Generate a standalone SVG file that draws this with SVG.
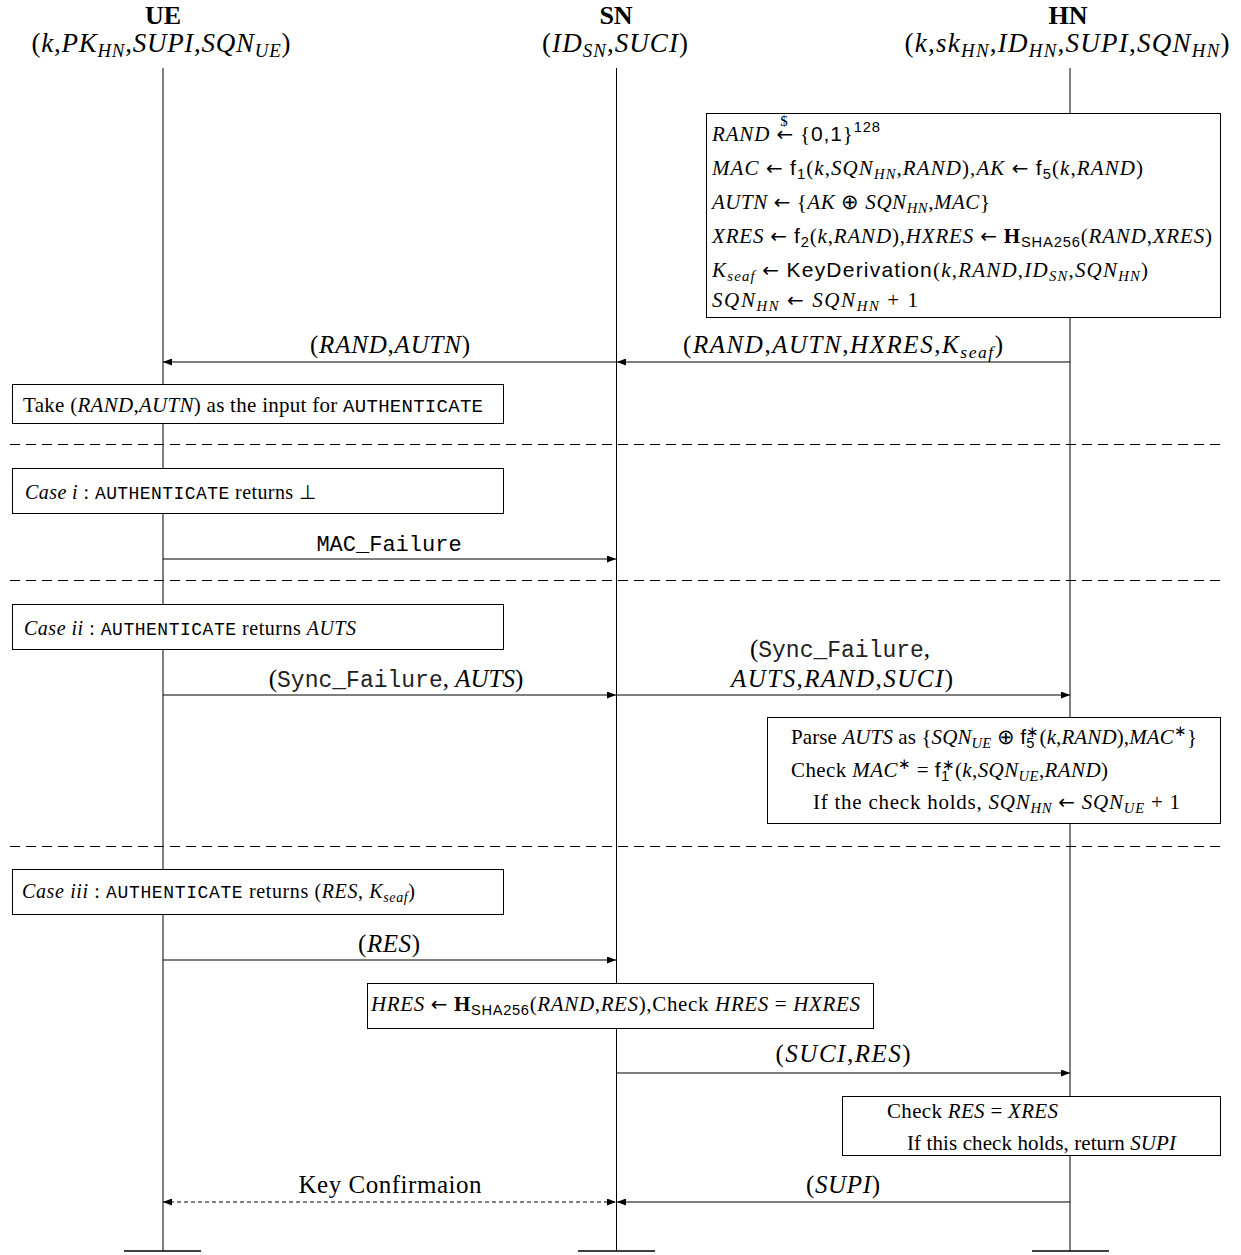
<svg xmlns="http://www.w3.org/2000/svg" width="1241" height="1255" viewBox="0 0 1241 1255">
  <style>
    text { font-family: "Liberation Serif", serif; fill: #000; }
    .i { font-style: italic; }
    .b { font-weight: bold; }
    .sf { font-family: "Liberation Sans", sans-serif; }
    .tt { font-family: "Liberation Mono", monospace; }
    .ar { font-family: "DejaVu Sans", sans-serif; font-size: 95%; }
    .s { font-size: 70%; }
    .hb { font-size: 26px; font-weight: bold; }
    .hd { font-size: 27px; }
    .lb { font-size: 25px; }
    .bx { font-size: 21px; }
    .cs { font-size: 20px; }
    .cs .tt { font-size: 18px; }
    .life { stroke: #000; stroke-width: 1; fill: none; }
    .box { fill: #fff; stroke: #000; stroke-width: 1; }
    .sep { stroke: #000; stroke-width: 1; stroke-dasharray: 10 6; }
    .msg { stroke: #000; stroke-width: 1.2; fill: none; marker-end: url(#ah); }
    .dmsg { stroke: #000; stroke-width: 1.2; fill: none; stroke-dasharray: 4 3; marker-end: url(#ah); marker-start: url(#ah); }
  </style>
  <defs>
    <marker id="ah" viewBox="0 0 9 7" refX="9" refY="3.5" markerWidth="9" markerHeight="7" markerUnits="userSpaceOnUse" orient="auto-start-reverse">
      <path d="M0,0 L9,3.5 L0,7 z" fill="#000"/>
    </marker>
  </defs>
  <rect width="1241" height="1255" fill="#fff"/>

  <!-- lifelines -->
  <g id="lifelines">
    <line class="life" x1="163" y1="68" x2="163" y2="1251"/>
    <line class="life" x1="616.5" y1="68" x2="616.5" y2="1251"/>
    <line class="life" x1="1070" y1="68" x2="1070" y2="1251"/>
    <line x1="124" y1="1251" x2="201" y2="1251" stroke="#000" stroke-width="1.5"/>
    <line x1="578" y1="1251" x2="655" y2="1251" stroke="#000" stroke-width="1.5"/>
    <line x1="1032" y1="1251" x2="1109" y2="1251" stroke="#000" stroke-width="1.5"/>
  </g>

  <!-- participants -->
  <g id="ue">
    <text class="hb" x="163" y="24" text-anchor="middle">UE</text>
    <text class="hd" x="161" y="52" text-anchor="middle" textLength="259">(<tspan class="i">k</tspan>,<tspan class="i">PK</tspan><tspan class="i s" dy="5">HN</tspan><tspan dy="-5">,</tspan><tspan class="i">SUPI</tspan>,<tspan class="i">SQN</tspan><tspan class="i s" dy="5">UE</tspan><tspan dy="-5">)</tspan></text>
  </g>
  <g id="sn">
    <text class="hb" x="616" y="24" text-anchor="middle">SN</text>
    <text class="hd" x="615" y="52" text-anchor="middle" textLength="146">(<tspan class="i">ID</tspan><tspan class="i s" dy="5">SN</tspan><tspan dy="-5">,</tspan><tspan class="i">SUCI</tspan>)</text>
  </g>
  <g id="hn">
    <text class="hb" x="1068" y="24" text-anchor="middle">HN</text>
    <text class="hd" x="1067" y="52" text-anchor="middle" textLength="325">(<tspan class="i">k</tspan>,<tspan class="i">sk</tspan><tspan class="i s" dy="5">HN</tspan><tspan dy="-5">,</tspan><tspan class="i">ID</tspan><tspan class="i s" dy="5">HN</tspan><tspan dy="-5">,</tspan><tspan class="i">SUPI</tspan>,<tspan class="i">SQN</tspan><tspan class="i s" dy="5">HN</tspan><tspan dy="-5">)</tspan></text>
  </g>

  <!-- HN key generation -->
  <g id="hn-gen">
    <rect class="box" x="706.5" y="113.5" width="514" height="204"/>
    <text class="bx" x="712" y="141" textLength="168"><tspan class="i">RAND</tspan> <tspan class="ar">←</tspan> {<tspan class="sf">0,1</tspan>}<tspan class="sf s" dy="-9">128</tspan></text>
    <text x="784" y="126" font-size="15" text-anchor="middle">$</text>
    <text class="bx" x="712" y="175" textLength="431"><tspan class="i">MAC</tspan> <tspan class="ar">←</tspan> <tspan class="sf">f</tspan><tspan class="sf s" dy="4">1</tspan><tspan dy="-4">(</tspan><tspan class="i">k</tspan>,<tspan class="i">SQN</tspan><tspan class="i s" dy="4">HN</tspan><tspan dy="-4">,</tspan><tspan class="i">RAND</tspan>),<tspan class="i">AK</tspan> <tspan class="ar">←</tspan> <tspan class="sf">f</tspan><tspan class="sf s" dy="4">5</tspan><tspan dy="-4">(</tspan><tspan class="i">k</tspan>,<tspan class="i">RAND</tspan>)</text>
    <text class="bx" x="712" y="209" textLength="278"><tspan class="i">AUTN</tspan> <tspan class="ar">←</tspan> {<tspan class="i">AK</tspan> ⊕ <tspan class="i">SQN</tspan><tspan class="i s" dy="4">HN</tspan><tspan dy="-4">,</tspan><tspan class="i">MAC</tspan>}</text>
    <text class="bx" x="712" y="243" textLength="500"><tspan class="i">XRES</tspan> <tspan class="ar">←</tspan> <tspan class="sf">f</tspan><tspan class="sf s" dy="4">2</tspan><tspan dy="-4">(</tspan><tspan class="i">k</tspan>,<tspan class="i">RAND</tspan>),<tspan class="i">HXRES</tspan> <tspan class="ar">←</tspan> <tspan class="b">H</tspan><tspan class="sf s" dy="4">SHA256</tspan><tspan dy="-4">(</tspan><tspan class="i">RAND</tspan>,<tspan class="i">XRES</tspan>)</text>
    <text class="bx" x="712" y="277" textLength="436"><tspan class="i">K</tspan><tspan class="i s" dy="4">seaf</tspan><tspan dy="-4"> </tspan><tspan class="ar">←</tspan> <tspan class="sf">KeyDerivation</tspan>(<tspan class="i">k</tspan>,<tspan class="i">RAND</tspan>,<tspan class="i">ID</tspan><tspan class="i s" dy="4">SN</tspan><tspan dy="-4">,</tspan><tspan class="i">SQN</tspan><tspan class="i s" dy="4">HN</tspan><tspan dy="-4">)</tspan></text>
    <text class="bx" x="712" y="307" textLength="206"><tspan class="i">SQN</tspan><tspan class="i s" dy="4">HN</tspan><tspan dy="-4"> </tspan><tspan class="ar">←</tspan> <tspan class="i">SQN</tspan><tspan class="i s" dy="4">HN</tspan><tspan dy="-4"> + 1</tspan></text>
  </g>

  <!-- UE local steps -->
  <g id="ue-take">
    <rect class="box" x="12.5" y="384.5" width="491" height="39"/>
    <text x="23" y="412" font-size="21" textLength="460">Take (<tspan class="i">RAND</tspan>,<tspan class="i">AUTN</tspan>) as the input for <tspan class="tt" font-size="19">AUTHENTICATE</tspan></text>
  </g>
  <g id="case-i">
    <rect class="box" x="12.5" y="468.5" width="491" height="45"/>
    <text class="cs" x="25" y="499" textLength="291"><tspan class="i">Case i</tspan> : <tspan class="tt">AUTHENTICATE</tspan> returns ⊥</text>
  </g>
  <g id="case-ii">
    <rect class="box" x="12.5" y="604.5" width="491" height="45"/>
    <text class="cs" x="24" y="635" textLength="332"><tspan class="i">Case ii</tspan> : <tspan class="tt">AUTHENTICATE</tspan> returns <tspan class="i">AUTS</tspan></text>
  </g>
  <g id="hn-sync">
    <rect class="box" x="767.5" y="717.5" width="453" height="106"/>
    <text class="bx" x="791" y="744" textLength="406">Parse <tspan class="i">AUTS</tspan> as {<tspan class="i">SQN</tspan><tspan class="i s" dy="4">UE</tspan><tspan dy="-4"> ⊕ </tspan><tspan class="sf">f</tspan><tspan class="sf s" dy="4">5</tspan><tspan class="s" dy="-11" dx="-8">∗</tspan><tspan dy="7">(</tspan><tspan class="i">k</tspan>,<tspan class="i">RAND</tspan>),<tspan class="i">MAC</tspan><tspan class="s" dy="-8">∗</tspan><tspan dy="8">}</tspan></text>
    <text class="bx" x="791" y="777" textLength="317">Check <tspan class="i">MAC</tspan><tspan class="s" dy="-8">∗</tspan><tspan dy="8"> = </tspan><tspan class="sf">f</tspan><tspan class="sf s" dy="4">1</tspan><tspan class="s" dy="-11" dx="-8">∗</tspan><tspan dy="7">(</tspan><tspan class="i">k</tspan>,<tspan class="i">SQN</tspan><tspan class="i s" dy="4">UE</tspan><tspan dy="-4">,</tspan><tspan class="i">RAND</tspan>)</text>
    <text class="bx" x="813" y="809" textLength="367">If the check holds, <tspan class="i">SQN</tspan><tspan class="i s" dy="4">HN</tspan><tspan dy="-4"> </tspan><tspan class="ar">←</tspan> <tspan class="i">SQN</tspan><tspan class="i s" dy="4">UE</tspan><tspan dy="-4"> + 1</tspan></text>
  </g>
  <g id="case-iii">
    <rect class="box" x="12.5" y="869.5" width="491" height="45"/>
    <text class="cs" x="22" y="898" textLength="393"><tspan class="i">Case iii</tspan> : <tspan class="tt">AUTHENTICATE</tspan> returns (<tspan class="i">RES</tspan>, <tspan class="i">K</tspan><tspan class="i s" dy="4">seaf</tspan><tspan dy="-4">)</tspan></text>
  </g>
  <g id="sn-check">
    <rect class="box" x="367.5" y="983.5" width="506" height="45"/>
    <text class="bx" x="371" y="1011" textLength="489"><tspan class="i">HRES</tspan> <tspan class="ar">←</tspan> <tspan class="b">H</tspan><tspan class="sf s" dy="4">SHA256</tspan><tspan dy="-4">(</tspan><tspan class="i">RAND</tspan>,<tspan class="i">RES</tspan>),Check <tspan class="i">HRES</tspan> = <tspan class="i">HXRES</tspan></text>
  </g>
  <g id="hn-check">
    <rect class="box" x="842.5" y="1096.5" width="378" height="59"/>
    <text class="bx" x="887" y="1118" textLength="171">Check <tspan class="i">RES</tspan> = <tspan class="i">XRES</tspan></text>
    <text class="bx" x="907" y="1150" textLength="269">If this check holds, return <tspan class="i">SUPI</tspan></text>
  </g>

  <!-- phase separators -->
  <g id="separators">
    <line class="sep" x1="10" y1="444.5" x2="1220" y2="444.5"/>
    <line class="sep" x1="10" y1="580.5" x2="1220" y2="580.5"/>
    <line class="sep" x1="10" y1="846.5" x2="1220" y2="846.5"/>
  </g>

  <!-- messages -->
  <g id="connectors">
    <line class="msg" x1="1070" y1="362" x2="617" y2="362"/>
    <line class="msg" x1="616" y1="362" x2="163" y2="362"/>
    <line class="msg" x1="163" y1="559" x2="616" y2="559"/>
    <line class="msg" x1="163" y1="695" x2="616" y2="695"/>
    <line class="msg" x1="617" y1="695" x2="1070" y2="695"/>
    <line class="msg" x1="163" y1="960" x2="616" y2="960"/>
    <line class="msg" x1="617" y1="1073" x2="1070" y2="1073"/>
    <line class="msg" x1="1070" y1="1202" x2="617" y2="1202"/>
    <line class="dmsg" x1="163" y1="1202" x2="616" y2="1202"/>

    <text class="lb" x="390" y="353" text-anchor="middle" textLength="160">(<tspan class="i">RAND</tspan>,<tspan class="i">AUTN</tspan>)</text>
    <text class="lb" x="843" y="353" text-anchor="middle" textLength="320">(<tspan class="i">RAND</tspan>,<tspan class="i">AUTN</tspan>,<tspan class="i">HXRES</tspan>,<tspan class="i">K</tspan><tspan class="i s" dy="5">seaf</tspan><tspan dy="-5">)</tspan></text>
    <text class="tt" x="389" y="551" font-size="22" fill="#222" text-anchor="middle">MAC_Failure</text>
    <text class="lb" x="396" y="687" text-anchor="middle">(<tspan class="tt" font-size="23" fill="#222">Sync_Failure</tspan>, <tspan class="i">AUTS</tspan>)</text>
    <text class="lb" x="840" y="657" text-anchor="middle">(<tspan class="tt" font-size="23" fill="#222">Sync_Failure</tspan>,</text>
    <text class="lb" x="842" y="687" text-anchor="middle" textLength="222"><tspan class="i">AUTS</tspan>,<tspan class="i">RAND</tspan>,<tspan class="i">SUCI</tspan>)</text>
    <text class="lb" x="389" y="952" text-anchor="middle" textLength="62">(<tspan class="i">RES</tspan>)</text>
    <text class="lb" x="843" y="1062" text-anchor="middle" textLength="135">(<tspan class="i">SUCI</tspan>,<tspan class="i">RES</tspan>)</text>
    <text x="390" y="1193" font-family="Liberation Serif, serif" font-size="25" text-anchor="middle" textLength="183">Key Confirmaion</text>
    <text class="lb" x="843" y="1193" text-anchor="middle" textLength="74">(<tspan class="i">SUPI</tspan>)</text>
  </g>
</svg>
